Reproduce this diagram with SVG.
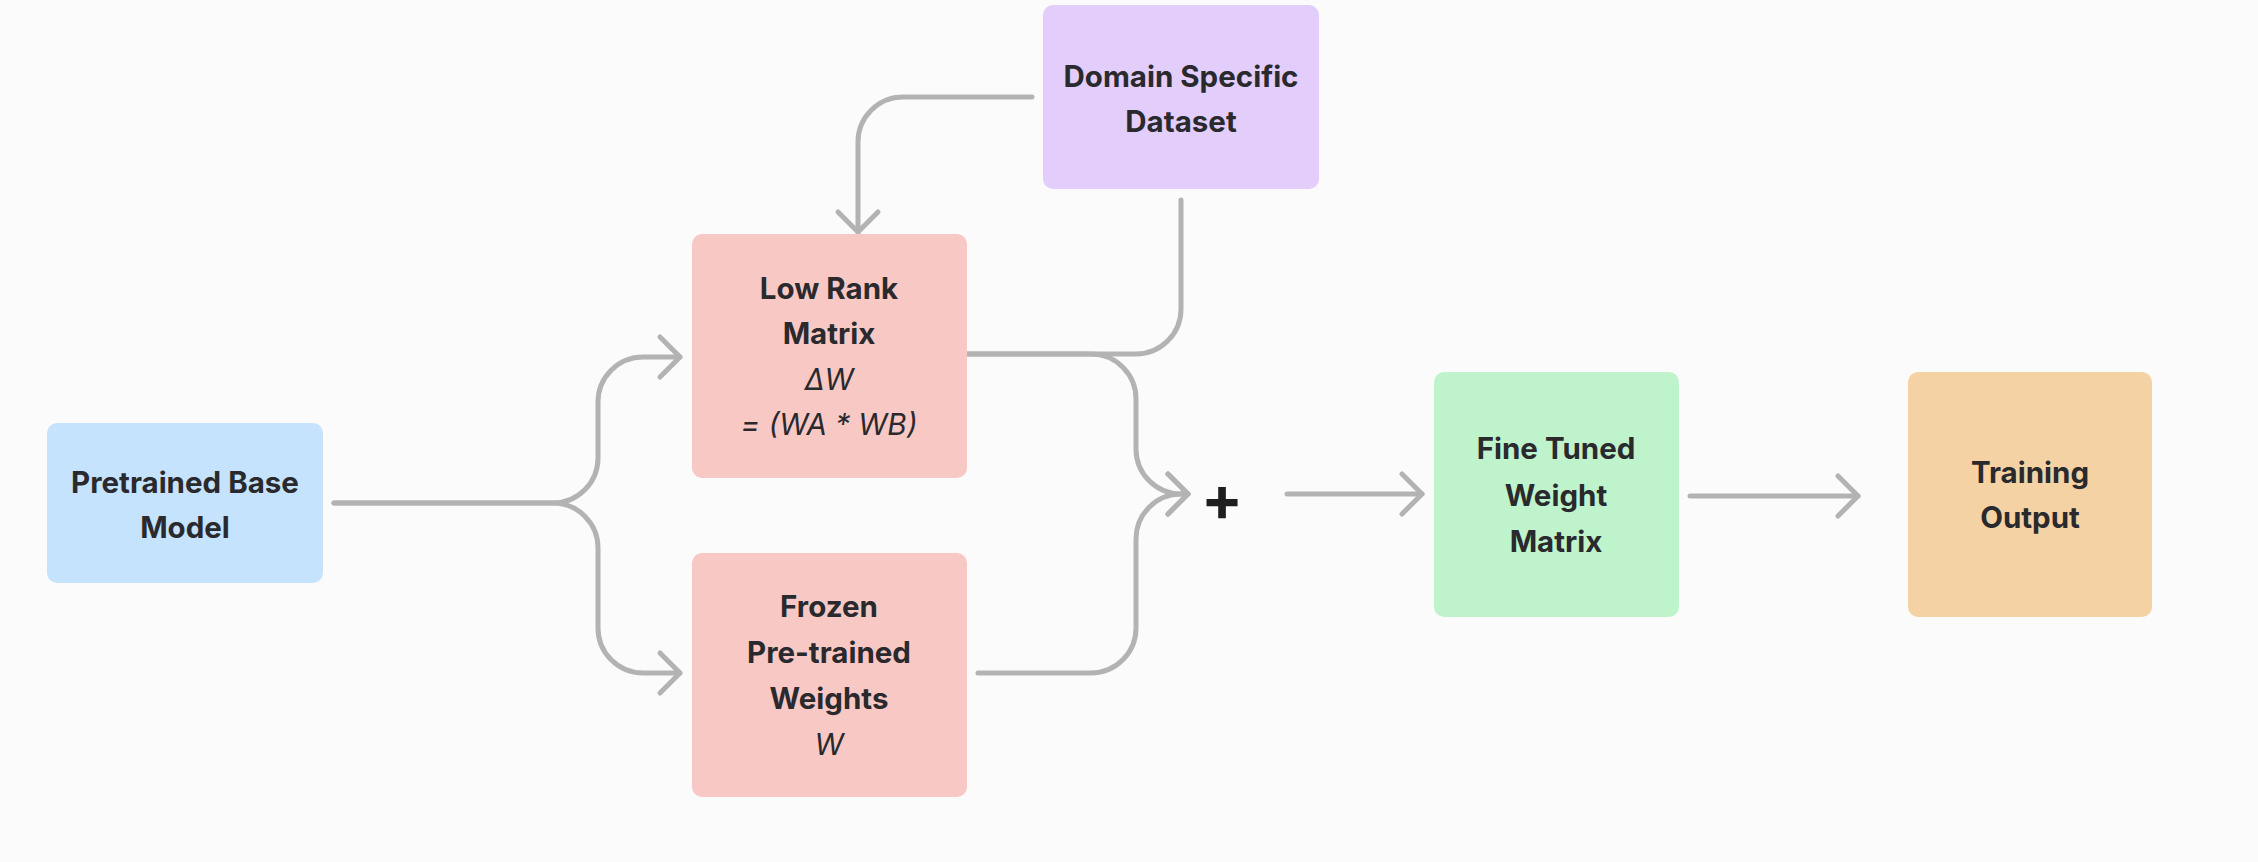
<svg xmlns="http://www.w3.org/2000/svg" width="2258" height="862" viewBox="0 0 2258 862">
<defs>
<style>
.node text{font-family:Inter,"Liberation Sans",sans-serif;font-weight:700;font-size:29.5px;fill:#2a2a2e;text-anchor:middle}
.node text.it{font-style:italic;font-weight:400}
.conn path{fill:none;stroke:#b3b3b3;stroke-width:5;stroke-linecap:round;stroke-linejoin:round}
</style>
<marker id="chev" markerUnits="userSpaceOnUse" markerWidth="50" markerHeight="50" viewBox="-25 -25 50 50" refX="0" refY="0" orient="auto" overflow="visible">
<path d="M-20,-20 L0,0 L-20,20" fill="none" stroke="#b3b3b3" stroke-width="5" stroke-linecap="round" stroke-linejoin="round"/>
</marker>
</defs>
<rect width="2258" height="862" fill="#fbfbfb"/>
<g class="conn" id="connectors">
<path d="M334,503 H553 A45,45 0 0 0 598,458 V402 A45,45 0 0 1 643,357 H680" marker-end="url(#chev)"/>
<path d="M334,503 H553 A45,45 0 0 1 598,548 V628 A45,45 0 0 0 643,673 H680" marker-end="url(#chev)"/>
<path d="M1032,97 H903 A45,45 0 0 0 858,142 V232" marker-end="url(#chev)"/>
<path d="M1181,200 V309 A45,45 0 0 1 1136,354 H967"/>
<path d="M967,354 H1091 A45,45 0 0 1 1136,399 V449 A45,45 0 0 0 1181,494 H1188" marker-end="url(#chev)"/>
<path d="M978,673 H1091 A45,45 0 0 0 1136,628 V539 A45,45 0 0 1 1181,494 H1188" marker-end="url(#chev)"/>
<path d="M1287,494 H1422" marker-end="url(#chev)"/>
<path d="M1690,496 H1858" marker-end="url(#chev)"/>
</g>
<g class="node" id="pretrained">
<rect x="47" y="423" width="276" height="160" rx="10" fill="#c5e3fc"/>
<text x="185" y="493">Pretrained Base</text>
<text x="185" y="538">Model</text>
</g>
<g class="node" id="lowrank">
<rect x="692" y="234" width="275" height="244" rx="10" fill="#f8c9c4"/>
<text x="829" y="299">Low Rank</text>
<text x="829" y="344">Matrix</text>
<text class="it" x="829" y="390">ΔW</text>
<text class="it" x="829" y="435">= (WA * WB)</text>
</g>
<g class="node" id="frozen">
<rect x="692" y="553" width="275" height="244" rx="10" fill="#f8c9c4"/>
<text x="829" y="617">Frozen</text>
<text x="829" y="663">Pre-trained</text>
<text x="829" y="709">Weights</text>
<text class="it" x="829" y="755">W</text>
</g>
<g class="node" id="dataset">
<rect x="1043" y="5" width="276" height="184" rx="10" fill="#e2cdfb"/>
<text x="1181" y="87">Domain Specific</text>
<text x="1181" y="132">Dataset</text>
</g>
<g class="node" id="plus">
<text x="1222" y="521" style="font-size:62px;font-weight:700;fill:#1e1e1e">+</text>
</g>
<g class="node" id="finetuned">
<rect x="1434" y="372" width="245" height="245" rx="10" fill="#bef3cc"/>
<text x="1556" y="459">Fine Tuned</text>
<text x="1556" y="506">Weight</text>
<text x="1556" y="552">Matrix</text>
</g>
<g class="node" id="output">
<rect x="1908" y="372" width="244" height="245" rx="10" fill="#f5d2a3"/>
<text x="2030" y="483">Training</text>
<text x="2030" y="528">Output</text>
</g>
</svg>
